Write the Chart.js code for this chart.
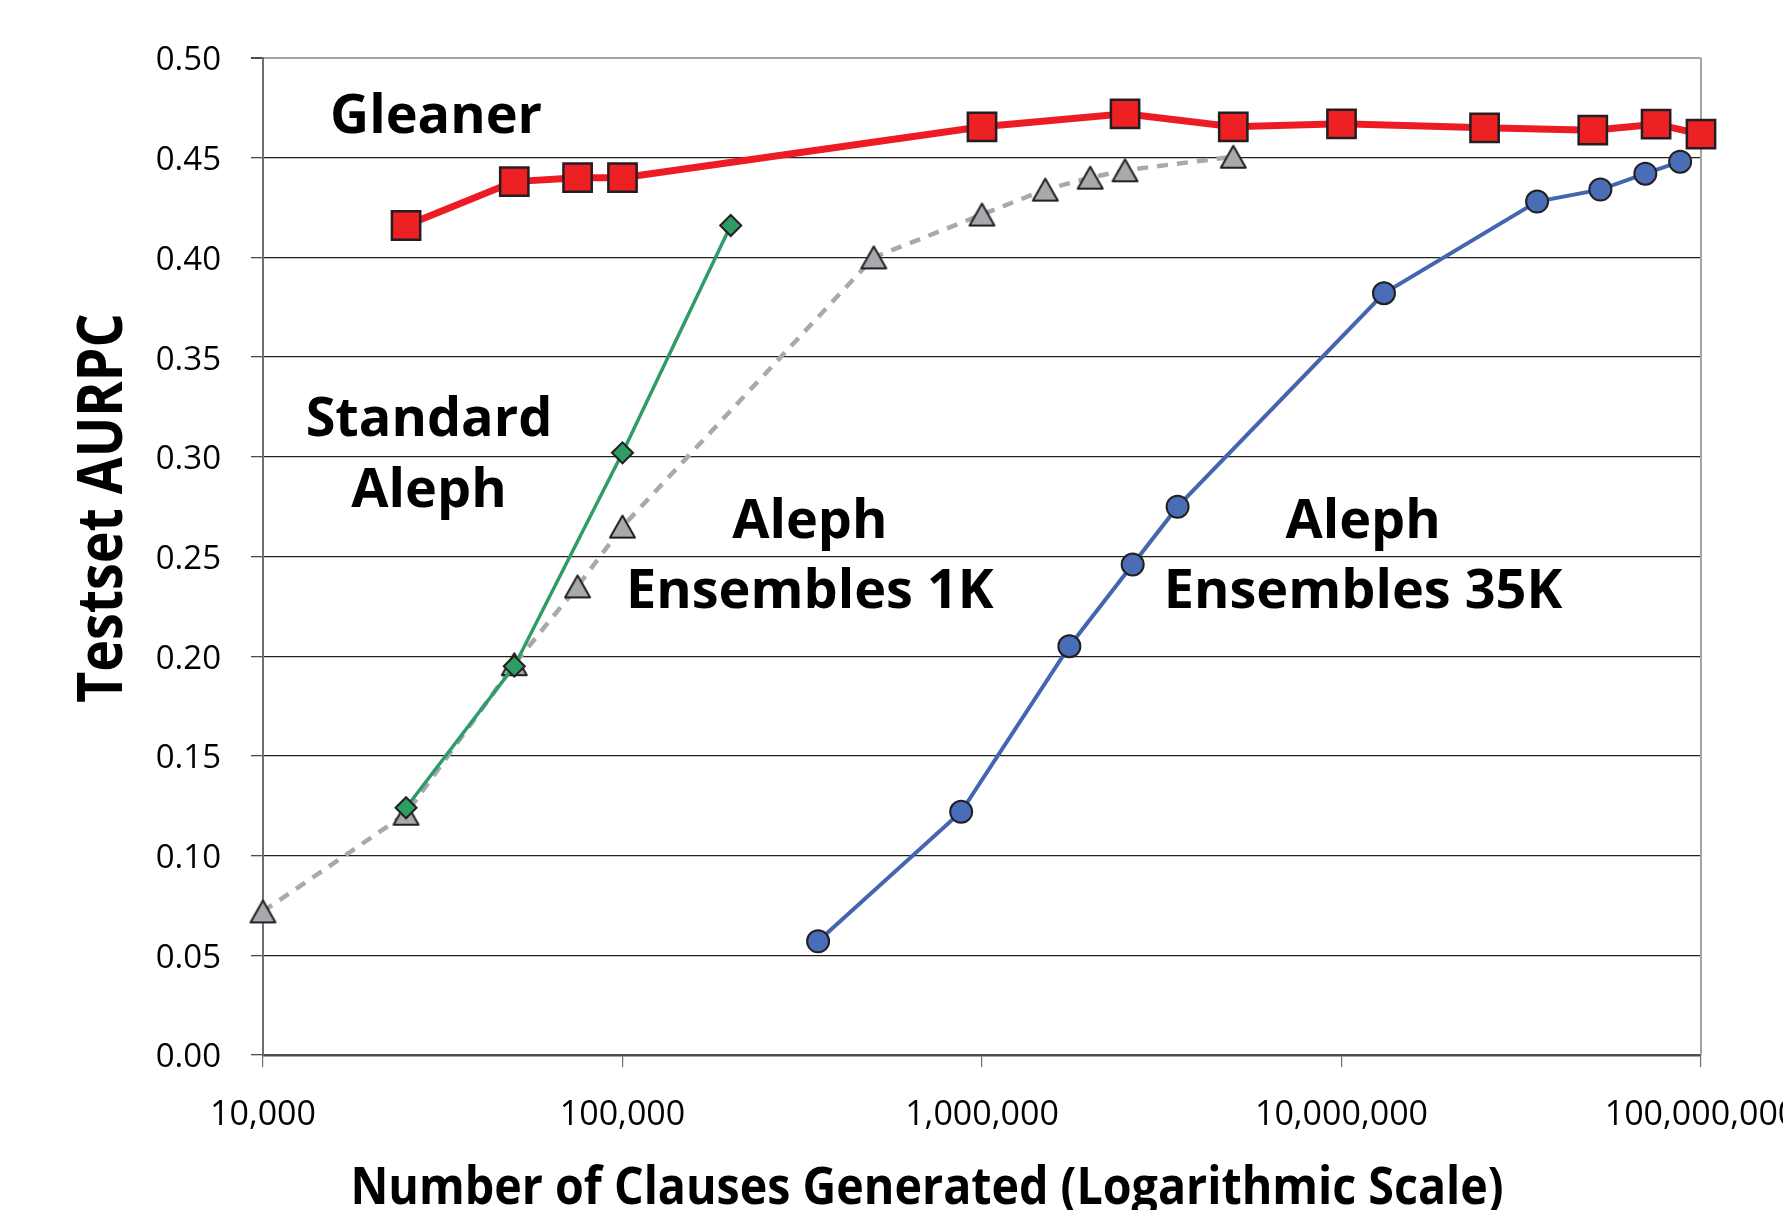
<!DOCTYPE html>
<html>
<head>
<meta charset="utf-8">
<title>Testset AURPC vs. number of clauses generated</title>
<script src="https://cdn.jsdelivr.net/npm/chart.js@4.4.1/dist/chart.umd.min.js"></script>
<style>
  html, body { margin: 0; padding: 0; background: #ffffff; }
  #wrap { width: 1783px; height: 1210px; }
  canvas { display: block; }
</style>
</head>
<body>
<div id="wrap"><canvas id="chart" width="1783" height="1210"></canvas></div>
<script>
// Clauses generated (x, log scale) and testset AURPC (y) per method
const gleanerClauses = [25000, 50000, 75000, 100000, 1000000, 2500000, 5000000, 10000000, 25000000, 50000000, 75000000, 100000000];
const gleanerAurpc   = [0.416, 0.438, 0.440, 0.440, 0.4655, 0.472, 0.4655, 0.467, 0.465, 0.4638, 0.4668, 0.4618];

const standardClauses = [25000, 50000, 100000, 200000];
const standardAurpc   = [0.124, 0.195, 0.302, 0.416];

const ens1kClauses = [10000, 25000, 50000, 75000, 100000, 500000, 1000000, 1500000, 2000000, 2500000, 5000000];
const ens1kAurpc   = [0.072, 0.121, 0.196, 0.235, 0.265, 0.400, 0.4215, 0.434, 0.440, 0.4437, 0.4505];

const ens35kClauses = [350000, 875000, 1750000, 2625000, 3500000, 13125000, 35000000, 52500000, 70000000, 87500000];
const ens35kAurpc   = [0.057, 0.122, 0.205, 0.246, 0.275, 0.382, 0.428, 0.434, 0.442, 0.448];

// Axis ticks
const xTickValues = [10000, 100000, 1000000, 10000000, 100000000];
const yMin = 0, yMax = 0.5, yStep = 0.05;

// In-plot series names, anchored in data coordinates (centre x, baseline y)
const seriesNames = [
  { text: 'Gleaner',       x: 30300,    y: 0.4624 },
  { text: 'Standard',      x: 28960,    y: 0.3102 },
  { text: 'Aleph',         x: 28960,    y: 0.2746 },
  { text: 'Aleph',         x: 332000,   y: 0.2594 },
  { text: 'Ensembles 1K',  x: 332000,   y: 0.2243 },
  { text: 'Aleph',         x: 11480000, y: 0.2594 },
  { text: 'Ensembles 35K', x: 11480000, y: 0.2243 }
];

const FONT = "'Open Sans', 'Noto Sans', 'DejaVu Sans', sans-serif";
const INK = '#231f20';

const toPoints = (xs, ys) => xs.map((x, i) => ({ x: x, y: ys[i] }));

// Triangle marker whose bounding box is centred on the point
function triangleMarker(w, h, fill, stroke, lw) {
  const c = document.createElement('canvas');
  const pad = lw + 1;
  c.width = w + pad * 2;
  c.height = h + pad * 2;
  const g = c.getContext('2d');
  g.beginPath();
  g.moveTo(c.width / 2, pad);
  g.lineTo(pad + w, pad + h);
  g.lineTo(pad, pad + h);
  g.closePath();
  g.fillStyle = fill;
  g.fill();
  g.lineWidth = lw;
  g.lineJoin = 'round';
  g.strokeStyle = stroke;
  g.stroke();
  return c;
}

// Draws condensed bold text (narrowed horizontally) centred on x
function condensedText(ctx, text, x, y, size, squeeze, rotation) {
  ctx.save();
  ctx.translate(x, y);
  if (rotation) ctx.rotate(rotation);
  ctx.scale(squeeze, 1);
  ctx.font = 'bold ' + size + 'px ' + FONT;
  ctx.fillText(text, 0, 0);
  ctx.restore();
}

const frameAndText = {
  id: 'frameAndText',
  beforeDatasetsDraw(chart) {
    const { ctx, chartArea: a } = chart;
    ctx.save();
    ctx.strokeStyle = '#a4a4a4';
    ctx.lineWidth = 2;
    ctx.beginPath();
    ctx.moveTo(a.right, a.top);
    ctx.lineTo(a.right, a.bottom);
    ctx.stroke();
    ctx.restore();
  },
  afterDraw(chart) {
    const { ctx, chartArea: a, scales } = chart;
    ctx.save();
    ctx.fillStyle = '#000';
    ctx.textAlign = 'center';
    ctx.textBaseline = 'alphabetic';

    ctx.font = 'bold 54px ' + FONT;
    seriesNames.forEach(n => {
      ctx.fillText(n.text, scales.x.getPixelForValue(n.x), scales.y.getPixelForValue(n.y));
    });

    condensedText(ctx, 'Number of Clauses Generated (Logarithmic Scale)', a.left + 664, a.bottom + 149, 52, 0.896, 0);
    condensedText(ctx, 'Testset AURPC', a.left - 141, a.top + 450, 62, 0.866, -Math.PI / 2);
    ctx.restore();
  }
};

Chart.defaults.font.family = FONT;

new Chart(document.getElementById('chart'), {
  type: 'line',
  data: {
    datasets: [
      {
        label: 'Gleaner',
        data: toPoints(gleanerClauses, gleanerAurpc),
        borderColor: '#ed1c24',
        borderWidth: 7,
        pointStyle: 'rect',
        pointRadius: 20,
        pointBackgroundColor: '#ed2024',
        pointBorderColor: INK,
        pointBorderWidth: 2.5,
        order: 0,
        clip: false
      },
      {
        label: 'Standard Aleph',
        data: toPoints(standardClauses, standardAurpc),
        borderColor: '#2e9c68',
        borderWidth: 3.5,
        pointStyle: 'rectRot',
        pointRadius: 10.5,
        pointBackgroundColor: '#2e9d63',
        pointBorderColor: INK,
        pointBorderWidth: 2,
        order: 1,
        clip: false
      },
      {
        label: 'Aleph Ensembles 1K',
        data: toPoints(ens1kClauses, ens1kAurpc),
        borderColor: '#a7a9ac',
        borderWidth: 4.5,
        borderDash: [11, 9],
        pointStyle: triangleMarker(25, 22, '#a7a9ac', INK, 2),
        pointRadius: 12,
        order: 2,
        clip: false
      },
      {
        label: 'Aleph Ensembles 35K',
        data: toPoints(ens35kClauses, ens35kAurpc),
        borderColor: '#4466b0',
        borderWidth: 4,
        pointStyle: 'circle',
        pointRadius: 11,
        pointBackgroundColor: '#4a6db8',
        pointBorderColor: INK,
        pointBorderWidth: 2,
        order: 3,
        clip: false
      }
    ]
  },
  options: {
    responsive: false,
    animation: false,
    events: [],
    layout: { padding: { top: 58, right: 82, left: 0, bottom: 0 } },
    elements: { line: { tension: 0, fill: false } },
    plugins: { legend: { display: false }, tooltip: { enabled: false }, title: { display: false } },
    scales: {
      x: {
        type: 'logarithmic',
        min: xTickValues[0],
        max: xTickValues[xTickValues.length - 1],
        afterBuildTicks: s => { s.ticks = xTickValues.map(v => ({ value: v, major: true })); },
        ticks: {
          callback: v => Number(v).toLocaleString('en-US'),
          font: { size: 34 },
          color: '#000',
          padding: 28,
          maxRotation: 0,
          autoSkip: false
        },
        grid: { drawOnChartArea: false, drawTicks: true, tickLength: 12, color: '#6d6e71', lineWidth: 1.2 },
        border: { color: '#4d4d4f', width: 2.5 },
        afterFit: s => { s.height = 155; s.paddingLeft = 0; s.paddingRight = 0; }
      },
      y: {
        min: yMin,
        max: yMax,
        ticks: {
          stepSize: yStep,
          callback: v => Number(v).toFixed(2),
          font: { size: 33 },
          color: '#000',
          padding: 30,
          labelOffset: 3
        },
        grid: {
          color: c => (c.tick && c.tick.value > yMax - 1e-6) ? '#a4a4a4' : INK,
          lineWidth: c => (c.tick && c.tick.value > yMax - 1e-6) ? 2 : 1.3,
          tickColor: '#4d4d4f',
          tickLength: 12
        },
        border: { color: '#6d6e71', width: 2 },
        afterFit: s => { s.width = 263; s.paddingTop = 0; s.paddingBottom = 0; }
      }
    }
  },
  plugins: [frameAndText]
});
</script>
</body>
</html>
